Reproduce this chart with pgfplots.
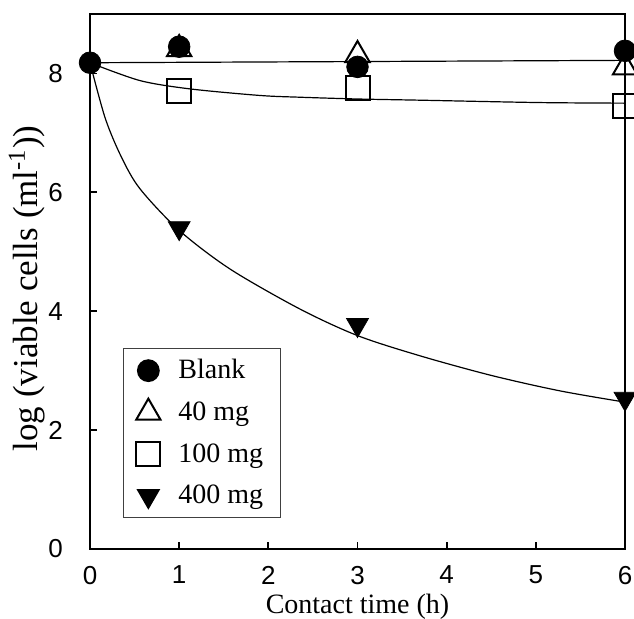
\documentclass[border=0pt]{standalone}
\usepackage{fontspec}
\setmainfont{Liberation Serif}
\newfontfamily\ticksans{Liberation Sans}
\usepackage{pgfplots}
\pgfplotsset{compat=1.18}

\begin{document}
\begin{tikzpicture}
\begin{axis}[
  name=ax,
  scale only axis,
  width=267.5pt, height=267.5pt,
  xmin=0, xmax=6, ymin=0, ymax=9,
  xtick={0,1,...,6}, ytick={0,2,4,6,8},
  tick align=inside, xtick pos=bottom, ytick pos=left,
  major tick length=3.5pt,
  axis line style={line width=1.1pt},
  every tick/.style={black, line width=0.9pt},
  tick label style={font=\ticksans\fontsize{13}{15}\selectfont},
  /pgf/number format/assume math mode=true,
  xticklabel style={yshift=-5pt}, yticklabel style={xshift=-10pt},
  xlabel={Contact time (h)},
  ylabel={log (viable cells (ml\textsuperscript{-1}))},
  every axis x label/.style={at={(axis description cs:0.5,0)}, anchor=center, yshift=-29pt, font=\fontsize{14}{16}\selectfont},
  every axis y label/.style={at={(axis description cs:-0.118,0.487)}, anchor=center, rotate=90, font=\fontsize{17.5}{20}\selectfont},
  clip=false,
  legend style={at={(axis description cs:0.061,0.376)}, anchor=north west,
    draw=black!75, line width=0.6pt, font=\fontsize{14}{16}\selectfont,
    inner xsep=6.5pt, inner ysep=3.5pt, row sep=6pt,
    /tikz/every odd column/.append style={column sep=7pt}},
  legend cell align=left,
  legend image post style={yshift=0pt},
]
% fitted curves
\addplot[line width=0.6pt, forget plot] coordinates {(0,8.18) (6,8.22)};
\addplot[line width=0.6pt, smooth, forget plot] coordinates {
  (0,8.18) (0.56,7.88) (1.12,7.74) (1.9,7.63) (2.35,7.60) (3,7.57) (3.7,7.55) (5.04,7.51) (6,7.50)};
\addplot[line width=0.6pt, smooth, forget plot] coordinates {
  (0,8.18) (0.17,7.25) (0.35,6.6) (0.56,6.06) (1,5.36) (1.57,4.71) (2.35,4.04)
  (3,3.59) (3.7,3.25) (4.5,2.92) (5.27,2.66) (6,2.47)};
% data
\addplot[only marks, mark=*, mark size=5.4pt, black] coordinates {
  (0,8.18) (1,8.45) (3,8.11) (6,8.38)};
\addlegendentry{Blank}
\addplot[only marks, mark=triangle, mark size=7pt, black, mark options={fill=white, line width=1pt}] coordinates {
  (1,8.41) (3,8.31) (6,8.10)};
\addlegendentry{40 mg}
\addplot[only marks, mark=square, mark size=6pt, black, mark options={fill=white, line width=1pt}] coordinates {
  (1,7.70) (3,7.76) (6,7.46)};
\addlegendentry{100 mg}
\addplot[only marks, mark=triangle*, mark size=6.3pt, black, mark options={rotate=180}] coordinates {
  (1,5.40) (3,3.77) (6,2.53)};
\addlegendentry{400 mg}
\end{axis}
\pgfresetboundingbox
\path ([shift={(-45pt,-35pt)}]ax.south west) rectangle ([shift={(4.5pt,7pt)}]ax.north east);
\end{tikzpicture}
\end{document}
